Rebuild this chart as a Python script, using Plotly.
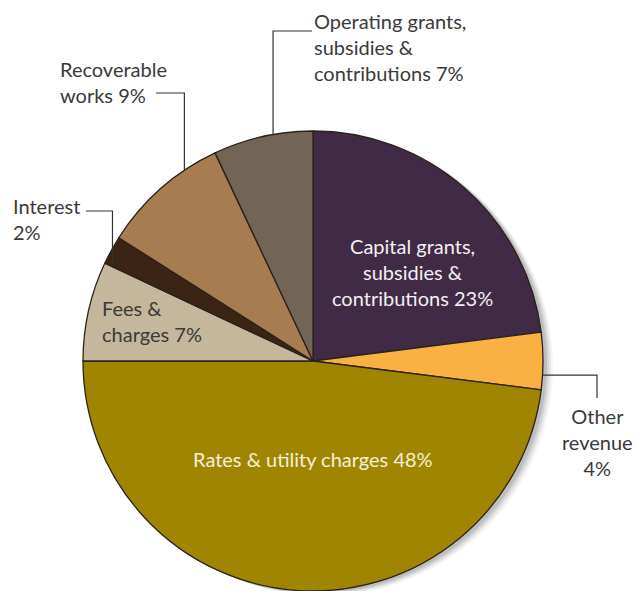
import math
import plotly.graph_objects as go

# Revenue composition, clockwise from 12 o'clock
categories = [
    "Capital grants,<br>subsidies &<br>contributions",
    "Other<br>revenue",
    "Rates & utility charges",
    "Fees &<br>charges",
    "Interest",
    "Recoverable<br>works",
    "Operating grants,<br>subsidies &<br>contributions",
]
shares = [23, 4, 48, 7, 2, 9, 7]
colors = ["#412a45", "#f9b143", "#a08600", "#c5b79c", "#3c2415", "#a77c51", "#736556"]

W, H = 637, 591
CX, CY, R = 313, 361, 230  # pie centre and radius in pixels
FONT = "Lato"
FONT_SIZE = 20
DARK = "#3a3a3a"


def px(x):
    return x / W


def py(y):
    return 1 - y / H


def slice_point(angle_deg, frac=1.0):
    a = math.radians(angle_deg)
    return CX + R * frac * math.sin(a), CY - R * frac * math.cos(a)


fig = go.Figure(
    go.Pie(
        values=shares,
        labels=[c.replace("<br>", " ") for c in categories],
        sort=False,
        direction="clockwise",
        rotation=0,
        marker=dict(colors=colors, line=dict(color="#2b221c", width=1.3)),
        textinfo="none",
        hoverinfo="label+percent",
        domain=dict(x=[px(CX - R), px(CX + R)], y=[0, py(CY - R)]),
        showlegend=False,
    )
)

# soft shadow behind the right side of the pie
shapes = []
for off, op in [(10, 0.04), (8, 0.06), (6, 0.08), (4, 0.10)]:
    shapes.append(dict(
        type="circle", xref="paper", yref="paper", layer="below",
        x0=px(CX - R + off), x1=px(CX + R + off),
        y0=py(CY + R + off * 0.5), y1=py(CY - R + off * 0.5),
        fillcolor=f"rgba(0,0,0,{op})", line=dict(width=0),
    ))


def label(i):
    return f"{categories[i]} {shares[i]}%"


annotations = []


def add_text(i, x, y, align, xanchor, color, text=None):
    annotations.append(dict(
        text=text if text is not None else label(i),
        x=px(x), y=py(y), xref="paper", yref="paper",
        xanchor=xanchor, yanchor="middle", align=align, showarrow=False,
        font=dict(family=FONT, size=FONT_SIZE, color=color),
    ))


def leader(points):
    d = "M " + " L ".join(f"{px(x)},{py(y)}" for x, y in points)
    shapes.append(dict(type="path", xref="paper", yref="paper", path=d,
                       line=dict(color="#333333", width=1.2)))


# inside labels
add_text(0, 412, 272, "center", "center", "#f4eff2")
add_text(2, 313, 459, "center", "center", "#f4efd8")
add_text(3, 100, 321, "left", "left", DARK)

# outside labels with leader lines
add_text(6, 312, 47, "left", "left", DARK)
ax, ay = slice_point(350)
leader([(ax, ay), (ax, 31), (312, 31)])

add_text(5, 58, 82, "left", "left", DARK)
ax, ay = slice_point(326)
leader([(ax, ay), (ax, 93), (156, 93)])

add_text(4, 11, 219, "left", "left", DARK, text=f"Interest<br>{shares[4]}%")
ax, ay = slice_point(296, 0.97)
leader([(ax, ay), (ax, 211), (86, 211)])

add_text(1, 597, 442, "center", "center", DARK,
         text=f"Other<br>revenue<br>{shares[1]}%")
ax, ay = slice_point(93.5)
leader([(ax, ay), (597, ay), (597, 398)])

fig.update_layout(
    width=W, height=H,
    margin=dict(l=0, r=0, t=0, b=0),
    paper_bgcolor="white", plot_bgcolor="white",
    shapes=shapes, annotations=annotations,
)

fig.write_html("out.html")
